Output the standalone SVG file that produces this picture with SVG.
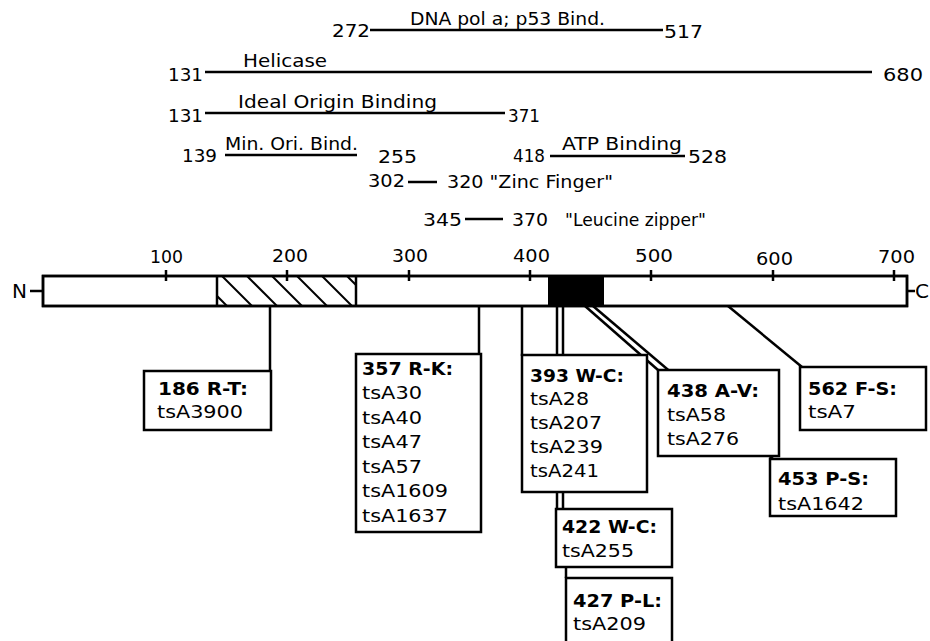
<svg xmlns="http://www.w3.org/2000/svg" width="930" height="641" viewBox="0 0 930 641">
<style>
text{font-family:"DejaVu Sans","Liberation Sans",sans-serif;font-size:17px;fill:#000}
.b{font-weight:bold}
.ln{stroke:#000;stroke-width:2.5;fill:none}
.thin{stroke:#000;stroke-width:2;fill:none}
.box{fill:#fff;stroke:#000;stroke-width:2.5}
</style>
<defs>
<clipPath id="hclip"><rect x="217" y="276" width="139" height="30"/></clipPath>
</defs>
<rect width="930" height="641" fill="#fff"/>

<g id="domains">
<g id="dna-pol">
<text x="332" y="37" textLength="38" lengthAdjust="spacingAndGlyphs">272</text>
<line class="ln" x1="370" y1="30" x2="663" y2="30"/>
<text x="410" y="25" textLength="195" lengthAdjust="spacingAndGlyphs">DNA pol a; p53 Bind.</text>
<text x="664" y="38" textLength="39" lengthAdjust="spacingAndGlyphs">517</text>
</g>
<g id="helicase">
<text x="168" y="81" textLength="35" lengthAdjust="spacingAndGlyphs">131</text>
<line class="ln" x1="205" y1="72" x2="872" y2="72"/>
<text x="243" y="67" textLength="84" lengthAdjust="spacingAndGlyphs">Helicase</text>
<text x="883" y="81" textLength="40" lengthAdjust="spacingAndGlyphs">680</text>
</g>
<g id="ideal-origin">
<text x="168" y="122" textLength="35" lengthAdjust="spacingAndGlyphs">131</text>
<line class="ln" x1="205" y1="113" x2="505" y2="113"/>
<text x="238" y="108" textLength="199" lengthAdjust="spacingAndGlyphs">Ideal Origin Binding</text>
<text x="508" y="122" textLength="32" lengthAdjust="spacingAndGlyphs">371</text>
</g>
<g id="min-ori">
<text x="182" y="162" textLength="35" lengthAdjust="spacingAndGlyphs">139</text>
<line class="ln" x1="225" y1="155" x2="357" y2="155"/>
<text x="225" y="150" textLength="133" lengthAdjust="spacingAndGlyphs">Min. Ori. Bind.</text>
<text x="378" y="163" textLength="39" lengthAdjust="spacingAndGlyphs">255</text>
</g>
<g id="atp">
<text x="513" y="162" textLength="32" lengthAdjust="spacingAndGlyphs">418</text>
<line class="ln" x1="550" y1="156" x2="685" y2="156"/>
<text x="562" y="150" textLength="120" lengthAdjust="spacingAndGlyphs">ATP Binding</text>
<text x="688" y="163" textLength="39" lengthAdjust="spacingAndGlyphs">528</text>
</g>
<g id="zinc">
<text x="368" y="187" textLength="37" lengthAdjust="spacingAndGlyphs">302</text>
<line class="ln" x1="408" y1="182" x2="437" y2="182"/>
<text x="447" y="188" textLength="166" lengthAdjust="spacingAndGlyphs">320 "Zinc Finger"</text>
</g>
<g id="leucine">
<text x="423" y="226" textLength="39" lengthAdjust="spacingAndGlyphs">345</text>
<line class="ln" x1="465" y1="219" x2="503" y2="219"/>
<text x="512" y="226" textLength="36" lengthAdjust="spacingAndGlyphs">370</text>
<text x="565" y="226" textLength="141" lengthAdjust="spacingAndGlyphs">"Leucine zipper"</text>
</g>
</g>

<g id="protein">
<text x="12" y="298" style="font-size:20px" textLength="15" lengthAdjust="spacingAndGlyphs">N</text>
<line class="ln" x1="30" y1="291" x2="43" y2="291"/>
<rect class="box" x="43" y="276" width="864" height="30"/>
<g clip-path="url(#hclip)">
<line class="thin" x1="197" y1="276" x2="227" y2="306"/>
<line class="thin" x1="222" y1="276" x2="252" y2="306"/>
<line class="thin" x1="247" y1="276" x2="277" y2="306"/>
<line class="thin" x1="272" y1="276" x2="302" y2="306"/>
<line class="thin" x1="297" y1="276" x2="327" y2="306"/>
<line class="thin" x1="322" y1="276" x2="352" y2="306"/>
<line class="thin" x1="347" y1="276" x2="377" y2="306"/>
</g>
<line class="ln" x1="217" y1="276" x2="217" y2="306"/>
<line class="ln" x1="356" y1="276" x2="356" y2="306"/>
<rect x="548" y="276" width="56" height="30" fill="#000"/>
<rect x="43" y="276" width="864" height="30" fill="none" stroke="#000" stroke-width="2.5"/>
<line class="ln" x1="907" y1="291" x2="915" y2="291"/>
<text x="915" y="298" style="font-size:20px">C</text>
<g id="ticks">
<line class="ln" x1="166" y1="270" x2="166" y2="281"/>
<line class="ln" x1="287" y1="270" x2="287" y2="281"/>
<line class="ln" x1="409" y1="270" x2="409" y2="281"/>
<line class="ln" x1="530" y1="270" x2="530" y2="281"/>
<line class="ln" x1="651" y1="270" x2="651" y2="281"/>
<line class="ln" x1="773" y1="270" x2="773" y2="281"/>
<line class="ln" x1="894" y1="270" x2="894" y2="281"/>
<text x="150" y="263" textLength="33" lengthAdjust="spacingAndGlyphs">100</text>
<text x="272" y="262" textLength="36" lengthAdjust="spacingAndGlyphs">200</text>
<text x="392" y="262" textLength="36" lengthAdjust="spacingAndGlyphs">300</text>
<text x="513" y="262" textLength="37" lengthAdjust="spacingAndGlyphs">400</text>
<text x="635" y="262" textLength="38" lengthAdjust="spacingAndGlyphs">500</text>
<text x="756" y="265" textLength="37" lengthAdjust="spacingAndGlyphs">600</text>
<text x="878" y="263" textLength="37" lengthAdjust="spacingAndGlyphs">700</text>
</g>
</g>

<g id="connectors">
<line class="ln" x1="270" y1="306" x2="270" y2="371"/>
<line class="ln" x1="479" y1="306" x2="479" y2="355"/>
<line class="ln" x1="522" y1="306" x2="522" y2="356"/>
<line class="ln" x1="557" y1="306" x2="557" y2="509"/>
<line class="ln" x1="563" y1="306" x2="563" y2="509"/>
<line class="ln" x1="566" y1="509" x2="566" y2="578"/>
<line class="ln" x1="585" y1="306" x2="658" y2="370"/>
<line class="ln" x1="593" y1="306" x2="773" y2="459"/>
<line class="ln" x1="728" y1="306" x2="802" y2="367"/>
</g>

<g id="m186">
<rect class="box" x="144" y="371" width="127" height="59"/>
<text class="b" x="158" y="395" textLength="90" lengthAdjust="spacingAndGlyphs">186 R-T:</text>
<text x="157" y="418" textLength="86" lengthAdjust="spacingAndGlyphs">tsA3900</text>
</g>
<g id="m357">
<rect class="box" x="356" y="354" width="125" height="178"/>
<text class="b" x="362" y="375" textLength="91" lengthAdjust="spacingAndGlyphs">357 R-K:</text>
<text x="362" y="399" textLength="60" lengthAdjust="spacingAndGlyphs">tsA30</text>
<text x="362" y="424" textLength="60" lengthAdjust="spacingAndGlyphs">tsA40</text>
<text x="362" y="448" textLength="60" lengthAdjust="spacingAndGlyphs">tsA47</text>
<text x="362" y="473" textLength="60" lengthAdjust="spacingAndGlyphs">tsA57</text>
<text x="362" y="497" textLength="86" lengthAdjust="spacingAndGlyphs">tsA1609</text>
<text x="362" y="522" textLength="86" lengthAdjust="spacingAndGlyphs">tsA1637</text>
</g>
<g id="m393">
<rect class="box" x="522" y="355" width="125" height="137"/>
<text class="b" x="530" y="382" textLength="94" lengthAdjust="spacingAndGlyphs">393 W-C:</text>
<text x="530" y="405" textLength="59" lengthAdjust="spacingAndGlyphs">tsA28</text>
<text x="530" y="429" textLength="72" lengthAdjust="spacingAndGlyphs">tsA207</text>
<text x="530" y="453" textLength="73" lengthAdjust="spacingAndGlyphs">tsA239</text>
<text x="530" y="477" textLength="69" lengthAdjust="spacingAndGlyphs">tsA241</text>
</g>
<g id="m438">
<rect class="box" x="658" y="370" width="121" height="86"/>
<text class="b" x="667" y="397" textLength="92" lengthAdjust="spacingAndGlyphs">438 A-V:</text>
<text x="667" y="421" textLength="59" lengthAdjust="spacingAndGlyphs">tsA58</text>
<text x="667" y="445" textLength="72" lengthAdjust="spacingAndGlyphs">tsA276</text>
</g>
<g id="m453">
<rect class="box" x="770" y="459" width="126" height="57"/>
<text class="b" x="778" y="485" textLength="91" lengthAdjust="spacingAndGlyphs">453 P-S:</text>
<text x="778" y="510" textLength="86" lengthAdjust="spacingAndGlyphs">tsA1642</text>
</g>
<g id="m562">
<rect class="box" x="800" y="367" width="126" height="63"/>
<text class="b" x="808" y="395" textLength="89" lengthAdjust="spacingAndGlyphs">562 F-S:</text>
<text x="808" y="418" textLength="48" lengthAdjust="spacingAndGlyphs">tsA7</text>
</g>
<g id="m422">
<rect class="box" x="556" y="509" width="116" height="58"/>
<text class="b" x="562" y="533" textLength="95" lengthAdjust="spacingAndGlyphs">422 W-C:</text>
<text x="562" y="557" textLength="72" lengthAdjust="spacingAndGlyphs">tsA255</text>
</g>
<g id="m427">
<rect class="box" x="566" y="578" width="106" height="80"/>
<text class="b" x="573" y="607" textLength="89" lengthAdjust="spacingAndGlyphs">427 P-L:</text>
<text x="573" y="630" textLength="73" lengthAdjust="spacingAndGlyphs">tsA209</text>
</g>
</svg>
